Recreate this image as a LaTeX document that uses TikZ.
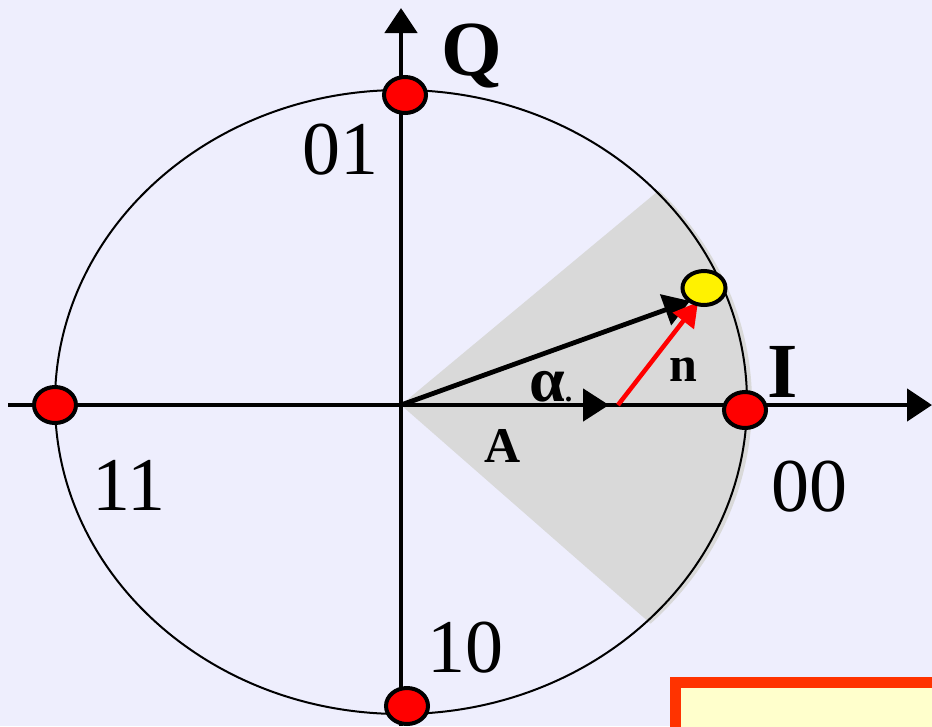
\documentclass[tikz,border=0pt]{standalone}
\usepackage{fontspec}
\setmainfont{Liberation Serif}
\usetikzlibrary{arrows.meta,shapes.geometric,calc}
\definecolor{bgc}{RGB}{238,238,253}
\definecolor{sectorc}{RGB}{217,217,217}
\definecolor{boxedge}{RGB}{255,51,0}
\definecolor{boxfill}{RGB}{255,255,204}
\tikzset{
  axis/.style={line width=4.8pt,-{Triangle[length=25pt,width=32pt]}},
  vec/.style={line width=4.8pt,-{Triangle[length=26pt,width=32pt]}},
  noise/.style={line width=4.5pt,red,-{Triangle[length=24pt,width=26pt]}},
  reddot/.style={ellipse,draw=black,line width=4pt,fill=red,minimum width=42pt,minimum height=36pt,inner sep=0pt},
  yeldot/.style={ellipse,draw=black,line width=4pt,fill=yellow,minimum width=43pt,minimum height=34pt,inner sep=0pt},
  biglab/.style={inner sep=0pt,font=\fontsize{76}{80}\selectfont},
  bigbold/.style={inner sep=0pt,font=\fontsize{78}{80}\selectfont\bfseries},
  smallbold/.style={inner sep=0pt,font=\fontsize{50}{54}\selectfont\bfseries},
}
\begin{document}
\begin{tikzpicture}[x=1pt,y=-1pt]
\fill[bgc] (0,0) rectangle (932,726);
\useasboundingbox (0,0) rectangle (932,726);
\coordinate (O) at (401,405);
% shaded sector
\fill[sectorc] (O) -- ($(406,403)+(-43:346 and 312)$) arc[start angle=-43,end angle=45,x radius=346,y radius=312] -- cycle;
% circle (ellipse)
\draw[line width=2pt] (401,402) ellipse [x radius=346,y radius=312];
% axes
\coordinate (xl) at (8,405);
\coordinate (xr) at (932,405);
\coordinate (yb) at (401,726);
\coordinate (yt) at (401,8);
\draw[axis] (xl) -- (xr);
\draw[axis] (yb) -- (yt);
% vectors
\coordinate (vtip) at (690,301);
\coordinate (Atip) at (609,405);
\coordinate (nstart) at (618,405);
\coordinate (ntip) at (698,302);
\draw[vec] (O) -- (vtip);
\draw[vec] (O) -- (Atip);
\draw[noise] (nstart) -- (ntip);
% constellation points
\node[reddot] (p01) at (405,95) {};
\node[reddot] (p11) at (55,405) {};
\node[reddot] (p00) at (745,410) {};
\node[reddot] (p10) at (407,706) {};
\node[yeldot] (rx) at (704,288) {};
% labels
\node[bigbold] (lQ) at (472,56) {Q};
\node[bigbold] (lI) at (783,372) {I};
\node[biglab] (l01) at (340,150) {01};
\node[biglab] (l11) at (129,485) {11};
\node[biglab] (l00) at (809,487) {00};
\node[biglab] (l10) at (465,648) {10};
\node[inner sep=0pt,anchor=base west,font=\fontsize{64}{64}\selectfont\bfseries] (lal) at (529,401) {α\fontsize{30}{30}\selectfont.};
\node[smallbold] (lA) at (503,446) {A};
\node[smallbold] (ln) at (683,370) {n};
% box
\draw[line width=11pt,draw=boxedge,fill=boxfill] (675.5,682.5) rectangle (950,760);
\end{tikzpicture}
\end{document}
